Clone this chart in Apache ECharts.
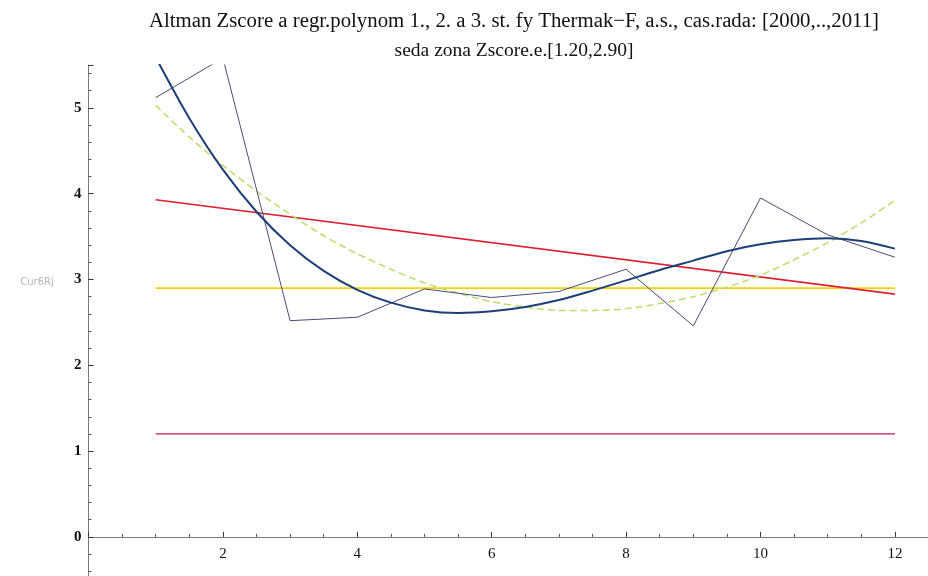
<!DOCTYPE html>
<html>
<head>
<meta charset="utf-8">
<script src="https://cdn.jsdelivr.net/npm/echarts@6/dist/echarts.min.js"></script>
<style>
html,body{margin:0;padding:0;background:#fff;}
#chart{width:928px;height:576px;}
</style>
</head>
<body>
<div id="chart"></div>
<script>
// ---- data ----
var titleLines = ["Altman Zscore a regr.polynom 1., 2. a 3. st. fy Thermak\u2212F, a.s., cas.rada: [2000,..,2011]", "seda zona Zscore.e.[1.20,2.90]"];
var yName = "Cur6Rj";
var years = [1, 2, 3, 4, 5, 6, 7, 8, 9, 10, 11, 12];
var zscore = [5.12, 5.58, 2.52, 2.56, 2.89, 2.79, 2.86, 3.12, 2.46, 3.95, 3.52, 3.26];
var fitX = [1, 1.5, 2, 2.5, 3, 3.5, 4, 4.5, 5, 5.5, 6, 6.5, 7, 7.5, 8, 8.5, 9, 9.5, 10, 10.5, 11, 11.5, 12];
var fitCubic = [5.59, 4.88, 4.28, 3.79, 3.40, 3.10, 2.88, 2.73, 2.64, 2.61, 2.63, 2.68, 2.76, 2.87, 2.99, 3.11, 3.22, 3.33, 3.41, 3.46, 3.48, 3.45, 3.36];
var fitQuad = [5.03, 4.66, 4.33, 4.03, 3.76, 3.51, 3.30, 3.12, 2.96, 2.84, 2.74, 2.68, 2.64, 2.64, 2.66, 2.72, 2.80, 2.91, 3.05, 3.23, 3.43, 3.66, 3.92];
var linX = [1, 12];
var fitLinear = [3.93, 2.83];
var zoneX = [1, 12];
var zoneUpper = [2.90, 2.90];
var zoneLower = [1.20, 1.20];
var xTickLabels = [2, 4, 6, 8, 10, 12];
var yTickLabels = [0, 1, 2, 3, 4, 5];

function pairs(xs, ys) { return xs.map(function (x, i) { return [x, ys[i]]; }); }

var chart = echarts.init(document.getElementById('chart'), null, {renderer: 'canvas'});
var serif = '"Liberation Serif", "DejaVu Serif", serif';

var yMin = -1, yMax = 5.5, gridTop = 65, gridBottom = -46.7;
var plotH = 576 - gridTop - gridBottom;
var zeroOffset = -plotH * (0 - yMin) / (yMax - yMin); // lift x axis up to y = 0

function lineSeries(name, xs, ys, color, width, type, smooth, z) {
  return {
    name: name, type: 'line', data: pairs(xs, ys), smooth: smooth ? 0.3 : false,
    showSymbol: false, symbol: 'none', clip: true, z: z || 2,
    lineStyle: {color: color, width: width, type: type || 'solid'},
    emphasis: {disabled: true}, animation: false
  };
}

chart.setOption({
  animation: false,
  backgroundColor: '#ffffff',
  grid: {left: 88.5, right: -0.5, top: gridTop, bottom: gridBottom, containLabel: false, outerBoundsMode: 'none'},
  xAxis: {
    type: 'value', min: 0, max: 12.5, interval: 2, position: 'bottom', offset: zeroOffset,
    axisLine: {show: true, onZero: false, lineStyle: {color: '#777', width: 1}},
    axisTick: {show: true, inside: true, length: 5, lineStyle: {color: '#333'}},
    minorTick: {show: true, splitNumber: 4, length: 3, lineStyle: {color: '#555'}},
    splitLine: {show: false},
    axisLabel: {
      margin: 10, color: '#111', fontFamily: serif, fontSize: 15,
      formatter: function (v) { return xTickLabels.indexOf(v) >= 0 ? String(v) : ''; }
    }
  },
  yAxis: {
    type: 'value', min: yMin, max: yMax, interval: 1,
    axisLine: {show: true, onZero: false, lineStyle: {color: '#777', width: 1}},
    axisTick: {show: true, inside: true, length: 5, lineStyle: {color: '#333'}},
    minorTick: {show: true, splitNumber: 5, length: 3, lineStyle: {color: '#555'}},
    splitLine: {show: false},
    axisLabel: {
      margin: 7, color: '#111', fontFamily: serif, fontSize: 15, fontWeight: 'bold',
      formatter: function (v) { return yTickLabels.indexOf(v) >= 0 ? String(v) : ''; }
    }
  },
  graphic: [
    {type: 'text', style: {text: titleLines[0], x: 514, y: 32, textAlign: 'center', textVerticalAlign: 'bottom', fill: '#111', font: '20.8px ' + serif}, silent: true},
    {type: 'text', style: {text: titleLines[1], x: 514, y: 61, textAlign: 'center', textVerticalAlign: 'bottom', fill: '#111', font: '19.5px ' + serif}, silent: true},
    {type: 'text', style: {text: yName, x: 37, y: 282, textAlign: 'center', textVerticalAlign: 'middle', fill: '#b5b5b5', font: '10px "DejaVu Sans", sans-serif'}, silent: true}
  ],
  series: [
    lineSeries('zona dolni', zoneX, zoneLower, '#c4185c', 1.3, 'solid', false, 2),
    lineSeries('zona horni', zoneX, zoneUpper, '#f0d400', 1.8, 'solid', false, 2),
    lineSeries('polynom 1', linX, fitLinear, '#dc1e32', 1.6, 'solid', false, 3),
    lineSeries('polynom 2', fitX, fitQuad, '#bcdc6c', 1.5, [7, 4], true, 3),
    lineSeries('Zscore', years, zscore, '#4a4a78', 1, 'solid', false, 4),
    lineSeries('polynom 3', fitX, fitCubic, '#1d3f78', 2, 'solid', true, 5)
  ]
});
</script>
</body>
</html>
